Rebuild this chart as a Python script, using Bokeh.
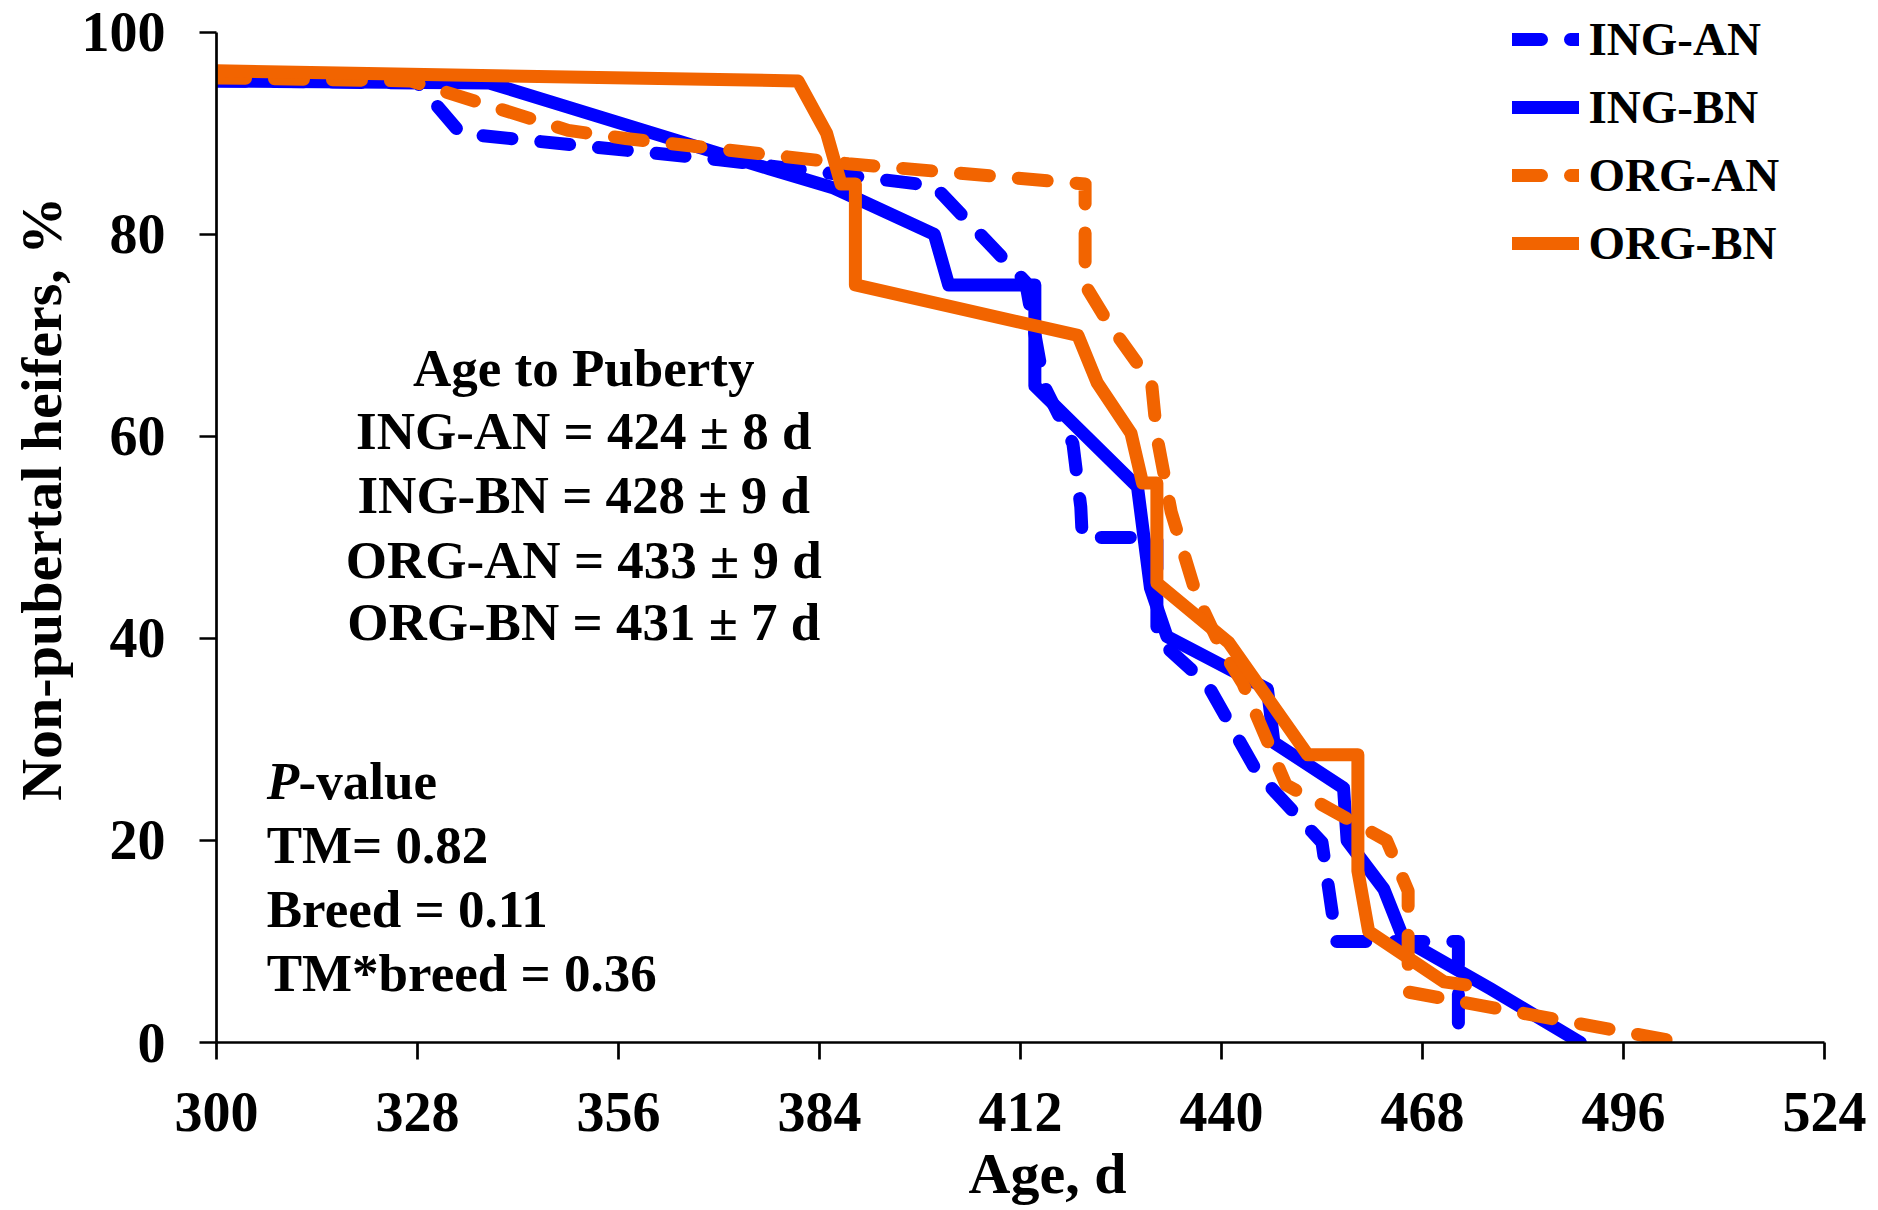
from bokeh.plotting import figure
from bokeh.models import Range1d, Legend, LegendItem, Label, FixedTicker, Title
from bokeh.embed import file_html
from bokeh.resources import INLINE

# Share of heifers still non-pubertal (%) against age (d), one curve per group
ing_an_age = [300, 328, 334, 370, 400, 412.7, 415.3, 419.3, 420.4, 420.6, 431, 431, 438, 445, 454, 456, 473, 473]
ing_an_pct = [95.2, 95.0, 90.0, 87.4, 84.8, 75.3, 65.0, 59.3, 53.0, 50.0, 50.0, 40.0, 35.5, 26.7, 19.8, 10.0, 10.0, 0.0]

ing_bn_age = [300, 338, 377, 386, 400, 402, 414, 414, 428.3, 430.1, 432.4, 446.4, 447.3, 457, 457.5, 462.6, 465.4, 477.5, 490]
ing_bn_pct = [95.2, 95.0, 86.5, 84.6, 80.0, 75.0, 75.0, 65.0, 55.0, 45.0, 40.2, 35.0, 29.7, 25.2, 20.0, 15.2, 10.2, 5.3, 0.0]

org_an_age = [300, 327, 349, 357, 388, 421, 421, 424, 428.5, 430.3, 431, 433, 436.5, 440, 443, 449, 463, 466, 466, 504]
org_an_pct = [95.5, 95.2, 90.3, 89.5, 87.0, 85.0, 75.0, 71.5, 67.0, 65.0, 60.0, 52.5, 44.3, 39.0, 35.5, 25.5, 20.0, 15.0, 5.0, 0.0]

org_bn_age = [300, 381, 385, 387, 389, 389, 420, 422.7, 427.4, 429, 431, 431, 441, 452, 459, 459, 460.5, 471, 474]
org_bn_pct = [96.2, 95.2, 90.0, 85.0, 85.0, 75.0, 70.0, 65.3, 60.3, 55.4, 55.4, 45.5, 39.6, 28.5, 28.5, 17.0, 11.0, 6.0, 5.7]

group_names = ["ING-AN", "ING-BN", "ORG-AN", "ORG-BN"]
x_ticks = [300, 328, 356, 384, 412, 440, 468, 496, 524]
y_ticks = [0, 20, 40, 60, 80, 100]

summary_title = "Age to Puberty"
summary_rows = ["ING-AN = 424 ± 8 d", "ING-BN = 428 ± 9 d", "ORG-AN = 433 ± 9 d", "ORG-BN = 431 ± 7 d"]
pvalue_rows = ["TM= 0.82", "Breed = 0.11", "TM*breed = 0.36"]

BLUE = "#0000FF"
ORANGE = "#F26400"
FONT = "Liberation Serif"
DASH = "29 29"

# The frame runs up to the top edge so the legend has room above 100 %;
# the y axis itself is bounded to 0-100.
p = figure(
    width=1878, height=1210,
    x_range=Range1d(300, 524), y_range=Range1d(0, 100 * 1044 / 1012),
    output_backend="svg", toolbar_location=None,
    min_border_left=216, min_border_right=54,
    min_border_top=0, min_border_bottom=166,
)
p.outline_line_color = None
p.xgrid.visible = False
p.ygrid.visible = False
p.background_fill_color = "white"
p.border_fill_color = "white"

for ax in (p.xaxis[0], p.yaxis[0]):
    ax.axis_line_width = 2.7
    ax.axis_line_color = "black"
    ax.major_tick_line_width = 2.7
    ax.major_tick_line_color = "black"
    ax.major_tick_out = 17
    ax.major_tick_in = 0
    ax.minor_tick_line_color = None
    ax.major_label_text_font = FONT
    ax.major_label_text_font_style = "bold"
    ax.major_label_text_font_size = "56px"
    ax.major_label_text_color = "black"

p.yaxis.bounds = (0, 100)
p.xaxis.ticker = FixedTicker(ticks=x_ticks)
p.yaxis.ticker = FixedTicker(ticks=y_ticks)
p.xaxis.major_label_standoff = 33
p.yaxis.major_label_standoff = 34

line_style = dict(line_width=13, line_cap="round", line_join="round")
r_ing_an = p.line(ing_an_age, ing_an_pct, line_color=BLUE, line_dash=DASH, **line_style)
r_ing_bn = p.line(ing_bn_age, ing_bn_pct, line_color=BLUE, **line_style)
r_org_an = p.line(org_an_age, org_an_pct, line_color=ORANGE, line_dash=DASH, **line_style)
r_org_bn = p.line(org_bn_age, org_bn_pct, line_color=ORANGE, **line_style)

legend = Legend(
    items=[LegendItem(label=n, renderers=[r]) for n, r in
           zip(group_names, [r_ing_an, r_ing_bn, r_org_an, r_org_bn])],
    location=(1295.5, 765.5),
    orientation="vertical",
    glyph_width=67, glyph_height=68, label_height=68,
    spacing=0, padding=0, margin=0, label_standoff=10,
    label_text_font=FONT, label_text_font_style="bold",
    label_text_font_size="47px", label_text_color="black",
    background_fill_alpha=0, border_line_alpha=0,
)
p.add_layout(legend)

text_style = dict(text_font=FONT, text_font_style="bold", text_color="black",
                  text_font_size="53px", text_baseline="middle")

# centred summary of mean age at puberty
summary_y = [66.8, 60.5, 54.2, 47.8, 41.6]
for txt, yy in zip([summary_title] + summary_rows, summary_y):
    p.add_layout(Label(x=351.15, y=yy, text=txt, text_align="center", **text_style))

# P-value block, left aligned
p.add_layout(Label(x=307.0, y=25.85, text="P", text_align="left",
                   **{**text_style, "text_font_style": "bold italic"}))
p.add_layout(Label(x=311.43, y=25.85, text="-value", text_align="left", **text_style))
for txt, yy in zip(pvalue_rows, [19.58, 13.18, 6.92]):
    p.add_layout(Label(x=307.0, y=yy, text=txt, text_align="left", **text_style))

# axis titles
title_style = dict(text_font=FONT, text_font_style="bold", text_font_size="58px",
                   text_color="black", align="left")
p.add_layout(Title(text="Age, d", offset=752, **title_style), "below")
p.add_layout(Title(text="Non-pubertal heifers, %", offset=241.7, **title_style), "left")

open("out.html", "w").write(file_html(p, INLINE))
